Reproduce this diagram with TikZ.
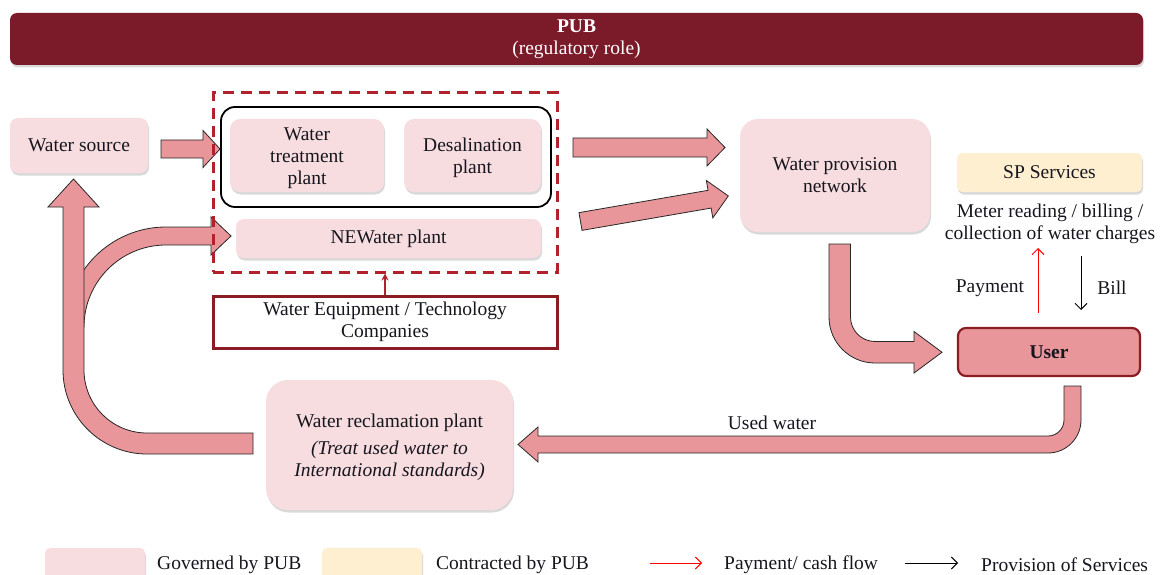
\documentclass[tikz,border=0pt]{standalone}
\usepackage{fontspec}
\setmainfont{Liberation Serif}
\usetikzlibrary{arrows.meta,shadows}
\definecolor{pubred}{RGB}{123,27,42}
\definecolor{lpink}{RGB}{247,221,224}
\definecolor{apink}{RGB}{232,150,154}
\definecolor{userbd}{RGB}{140,28,36}
\definecolor{dred}{RGB}{178,34,44}
\definecolor{lyel}{RGB}{253,239,207}
\definecolor{inkc}{RGB}{22,22,30}
\begin{document}
\begin{tikzpicture}[x=1pt,y=-1pt,
  every node/.style={font=\fontsize{19.5}{22}\selectfont, text=inkc},
  pbox/.style={fill=lpink, rounded corners=8pt, align=center, inner sep=0pt,
    drop shadow={shadow xshift=1pt, shadow yshift=-2.5pt, opacity=0.25, fill=black!60}},
  barrow/.style={fill=apink, draw=black!85, line width=0.8pt, line join=miter},
  lbl/.style={inner sep=0pt},
  thinarrow/.style={line width=1pt, -{Straight Barb[length=6pt,width=12pt]}},
]
\useasboundingbox (0,0) rectangle (1164,575);
\clip (0,0) rectangle (1164,575);

% banner
\node[pbox, fill=pubred, rounded corners=7pt, minimum width=1133pt, minimum height=52pt, text=white] (pub) at (576.5,39) {\textbf{PUB}\\(regulatory role)};

% boxes
\node[pbox, minimum width=138pt, minimum height=55pt] (src) at (79,145.5) {Water source};
\node[draw=black, line width=1.8pt, rounded corners=14pt, minimum width=330pt, minimum height=100pt, inner sep=0pt] (grp) at (386,157) {};
\node[pbox, rounded corners=10pt, minimum width=154pt, minimum height=73pt] (wtp) at (307,155.5) {};
\node[lbl, align=center] (wtptxt) at (307,158) {Water\\treatment\\plant};
\node[pbox, rounded corners=10pt, minimum width=137pt, minimum height=73pt] (desal) at (472.5,155.5) {};
\node[lbl, align=center] (desaltxt) at (472.5,157.5) {Desalination\\plant};
\node[pbox, minimum width=305pt, minimum height=39pt] (newater) at (388.5,238.5) {NEWater plant};
\node[draw=userbd, fill=white, line width=3pt, minimum width=344pt, minimum height=52pt, inner sep=0pt, align=center] (weq) at (385,322) {Water Equipment / Technology\\Companies};
\node[pbox, rounded corners=18pt, minimum width=190pt, minimum height=113pt] (net) at (835,175.5) {Water provision\\network};
\node[pbox, fill=lyel, rounded corners=6pt, minimum width=185pt, minimum height=39pt] (sp) at (1049.5,172.5) {SP Services};
\node[lbl, align=center] (meter) at (1050,223.5) {Meter reading / billing /\\collection of water charges};
\node[draw=userbd, fill=apink, line width=2.2pt, rounded corners=8pt, minimum width=182pt, minimum height=48pt, inner sep=0pt] (user) at (1049,352) {\textbf{User}};
\node[pbox, rounded corners=22pt, minimum width=247pt, minimum height=130pt] (recl) at (389.5,445) {};
\node[lbl, align=center] (recltxt) at (389.5,447.5) {Water reclamation plant\\[5pt]\textit{(Treat used water to}\\\textit{International standards)}};

% block arrows
\draw[barrow] (66,327) arc[start angle=180, end angle=270, radius=100] -- (211,227) -- (211,217) -- (231,236) -- (211,255) -- (211,245) -- (166,245) arc[start angle=270, end angle=180, radius=82] -- cycle;
\draw[barrow] (253,433) -- (147,433) arc[start angle=90, end angle=180, radius=63] -- (84,207) -- (99,207) -- (73.5,179) -- (48,207) -- (63,207) -- (63,370) arc[start angle=180, end angle=90, radius=84] -- (253,454) -- cycle;
\draw[barrow] (161,140) -- (203,140) -- (203,130.5) -- (220,149) -- (203,167.5) -- (203,158) -- (161,158) -- cycle;
\draw[barrow] (573,138) -- (707,138) -- (707,129) -- (725,147.5) -- (707,166) -- (707,157) -- (573,157) -- cycle;
\begin{scope}[shift={(580.5,221.5)}, rotate=9.8]
\draw[barrow] (0,-9) -- (131,-9) -- (131,-19) -- (150,0) -- (131,19) -- (131,9) -- (0,9) -- cycle;
\end{scope}
\draw[barrow] (829,244) -- (829,317) arc[start angle=180, end angle=90, radius=46] -- (914,363) -- (914,373) -- (942,352.25) -- (914,331.5) -- (914,341.5) -- (875,341.5) arc[start angle=90, end angle=180, radius=24.5] -- (850.5,244) -- cycle;
\draw[barrow] (1064,386) -- (1081,386) -- (1081,420) arc[start angle=0, end angle=90, radius=33] -- (538,453) -- (538,462) -- (518,444.5) -- (538,427) -- (538,436) -- (1048,436) arc[start angle=90, end angle=0, radius=16] -- cycle;

% dashed group
\node[draw=dred, dash pattern=on 11pt off 7pt, line width=3pt, minimum width=344pt, minimum height=179pt, inner sep=0pt] (ops) at (385,182.5) {};
\draw[dred, line width=1.6pt, -{Stealth[length=7pt,width=7pt]}] (weq.north) -- (ops.south);

% payment / bill
\coordinate (payS) at (1038,313);
\coordinate (payE) at (1038,248);
\coordinate (billS) at (1081,256);
\coordinate (billE) at (1081,310);
\draw[red, thinarrow] (payS) -- (payE);
\draw[black, thinarrow] (billS) -- (billE);
\node[lbl] (paylbl) at (990,288) {Payment};
\node[lbl] (billlbl) at (1112,288) {Bill};
\node[lbl] (usedlbl) at (772,423) {Used water};

% legend
\node[pbox, minimum width=100pt, minimum height=40pt, rounded corners=5pt] (lg1) at (95,568) {};
\node[lbl, anchor=west] (lg1t) at (157,565) {Governed by PUB};
\node[pbox, fill=lyel, minimum width=100pt, minimum height=40pt, rounded corners=5pt] (lg2) at (372,568) {};
\node[lbl, anchor=west] (lg2t) at (436,565) {Contracted by PUB};
\coordinate (lg3s) at (650,563);
\coordinate (lg3e) at (702,563);
\draw[red, thinarrow] (lg3s) -- (lg3e);
\node[lbl, anchor=west] (lg3t) at (724,565) {Payment/ cash flow};
\coordinate (lg4s) at (905,563);
\coordinate (lg4e) at (958,563);
\draw[black, thinarrow] (lg4s) -- (lg4e);
\node[lbl, anchor=west] (lg4t) at (981,565) {Provision of Services};
\end{tikzpicture}
\end{document}
